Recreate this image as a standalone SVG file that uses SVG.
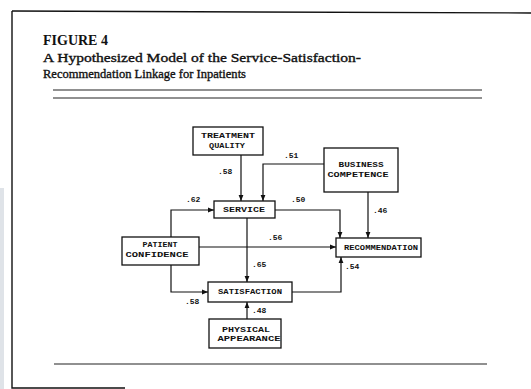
<svg xmlns="http://www.w3.org/2000/svg" width="531" height="389" viewBox="0 0 531 389">
  <defs>
    <marker id="arrow" viewBox="0 0 6 6" refX="6" refY="3" markerWidth="6" markerHeight="6" markerUnits="userSpaceOnUse" orient="auto">
      <path d="M0,0.6 L6,3 L0,5.4 z" fill="#111"/>
    </marker>
  </defs>
  <style>
    .frame { stroke: #111; stroke-width: 1.4; fill: none; }
    .rule { stroke: #222; stroke-width: 1.1; fill: none; }
    .box rect { fill: #fff; stroke: #111; stroke-width: 1.3; }
    .box text { font-family: "Liberation Mono", "DejaVu Sans Mono", monospace; font-weight: bold; font-size: 8px; fill: #111; text-anchor: middle; }
    .edge { stroke: #111; stroke-width: 1.2; fill: none; marker-end: url(#arrow); }
    .coef { font-family: "Liberation Mono", "DejaVu Sans Mono", monospace; font-weight: bold; font-size: 8px; fill: #111; }
    .title { font-family: "Liberation Serif", "DejaVu Serif", serif; fill: #111; }
    .sub { stroke: #111; stroke-width: 0.35; }
  </style>

  <rect width="531" height="389" fill="#fff"/>
  <!-- page edge shading -->
  <rect x="0" y="188" width="4" height="201" fill="#dfe3e8"/>

  <!-- page frame -->
  <path class="frame" d="M12,11 L531,13"/>
  <path class="frame" d="M12,11 V388 H125"/>

  <!-- heading -->
  <text class="title" x="43" y="45" font-size="14" font-weight="bold">FIGURE 4</text>
  <text class="title sub" x="43" y="62" font-size="12.5" textLength="318" lengthAdjust="spacingAndGlyphs">A Hypothesized Model of the Service-Satisfaction-</text>
  <text class="title sub" x="43" y="78" font-size="12.5" textLength="203" lengthAdjust="spacingAndGlyphs">Recommendation Linkage for Inpatients</text>

  <path class="rule" d="M53,90 H482"/>
  <path class="rule" d="M53,98 H482"/>
  <path class="rule" d="M54,364 H487"/>

  <!-- connectors -->
  <g id="connectors">
    <path class="edge" d="M241,155 V201"/>
    <path class="edge" d="M324,164 H263 V201"/>
    <path class="edge" d="M171,237 V210 H214"/>
    <path class="edge" d="M275,210 H340 V238"/>
    <path class="edge" d="M368,192 V238"/>
    <path class="edge" d="M199,247 H336"/>
    <path class="edge" d="M247,218 V282"/>
    <path class="edge" d="M171,265 V292 H208"/>
    <path class="edge" d="M292,292 H341 V257"/>
    <path class="edge" d="M247,319 V302"/>
  </g>

  <!-- path coefficients -->
  <g id="coefficients">
    <text class="coef" x="218" y="174">.58</text>
    <text class="coef" x="284" y="158">.51</text>
    <text class="coef" x="186" y="202">.62</text>
    <text class="coef" x="291" y="202">.50</text>
    <text class="coef" x="373" y="213">.46</text>
    <text class="coef" x="268" y="240">.56</text>
    <text class="coef" x="252" y="267">.65</text>
    <text class="coef" x="185" y="304">.58</text>
    <text class="coef" x="345" y="269">.54</text>
    <text class="coef" x="252" y="313">.48</text>
  </g>

  <!-- nodes -->
  <g id="treatment-quality" class="box">
    <rect x="193" y="127" width="70" height="28"/>
    <text x="228" y="138" textLength="54" lengthAdjust="spacingAndGlyphs">TREATMENT</text>
    <text x="227" y="148" textLength="36" lengthAdjust="spacingAndGlyphs">QUALITY</text>
  </g>
  <g id="business-competence" class="box">
    <rect x="324" y="148" width="74" height="44"/>
    <text x="361" y="167" textLength="45" lengthAdjust="spacingAndGlyphs">BUSINESS</text>
    <text x="358" y="177" textLength="61" lengthAdjust="spacingAndGlyphs">COMPETENCE</text>
  </g>
  <g id="service" class="box">
    <rect x="214" y="201" width="61" height="17"/>
    <text x="244" y="212" textLength="42" lengthAdjust="spacingAndGlyphs">SERVICE</text>
  </g>
  <g id="patient-confidence" class="box">
    <rect x="122" y="237" width="77" height="28"/>
    <text x="160" y="247" textLength="35" lengthAdjust="spacingAndGlyphs">PATIENT</text>
    <text x="157" y="257" textLength="63" lengthAdjust="spacingAndGlyphs">CONFIDENCE</text>
  </g>
  <g id="recommendation" class="box">
    <rect x="336" y="238" width="85" height="19"/>
    <text x="381" y="250" textLength="74" lengthAdjust="spacingAndGlyphs">RECOMMENDATION</text>
  </g>
  <g id="satisfaction" class="box">
    <rect x="208" y="282" width="84" height="20"/>
    <text x="250" y="294" textLength="64" lengthAdjust="spacingAndGlyphs">SATISFACTION</text>
  </g>
  <g id="physical-appearance" class="box">
    <rect x="209" y="319" width="72" height="29"/>
    <text x="246" y="332" textLength="48" lengthAdjust="spacingAndGlyphs">PHYSICAL</text>
    <text x="249" y="341" textLength="63" lengthAdjust="spacingAndGlyphs">APPEARANCE</text>
  </g>
</svg>
